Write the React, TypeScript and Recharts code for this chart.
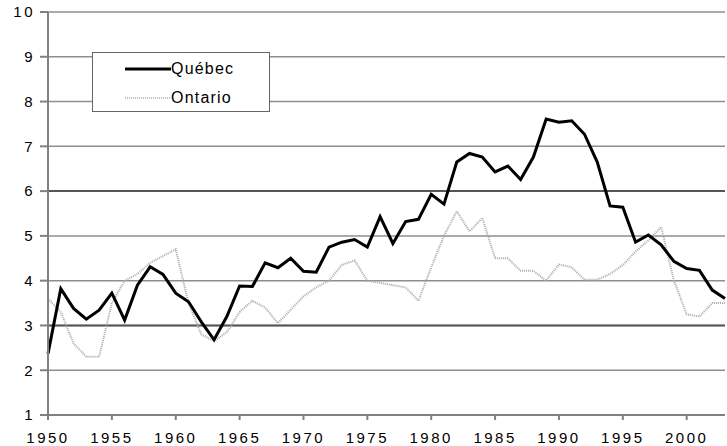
import { LineChart, Line, XAxis, YAxis, CartesianGrid, ReferenceLine } from "recharts";

const years = [
  1950, 1951, 1952, 1953, 1954, 1955, 1956, 1957, 1958, 1959,
  1960, 1961, 1962, 1963, 1964, 1965, 1966, 1967, 1968, 1969,
  1970, 1971, 1972, 1973, 1974, 1975, 1976, 1977, 1978, 1979,
  1980, 1981, 1982, 1983, 1984, 1985, 1986, 1987, 1988, 1989,
  1990, 1991, 1992, 1993, 1994, 1995, 1996, 1997, 1998, 1999,
  2000, 2001, 2002, 2003,
];

const quebec = [
  2.37, 3.82, 3.38, 3.14, 3.34, 3.72, 3.12, 3.9, 4.31, 4.14,
  3.72, 3.53, 3.08, 2.68, 3.2, 3.88, 3.87, 4.4, 4.29, 4.5,
  4.21, 4.19, 4.75, 4.86, 4.92, 4.75, 5.43, 4.83, 5.32, 5.37,
  5.93, 5.71, 6.65, 6.84, 6.76, 6.43, 6.56, 6.26, 6.76, 7.61,
  7.54, 7.57, 7.27, 6.65, 5.67, 5.64, 4.86, 5.02, 4.8, 4.43,
  4.27, 4.23, 3.79, 3.6,
];

const ontario = [
  3.6, 3.3, 2.6, 2.3, 2.3, 3.5, 4.0, 4.15, 4.4, 4.55,
  4.7, 3.5, 2.8, 2.65, 2.85, 3.3, 3.55, 3.4, 3.05, 3.35,
  3.65, 3.85, 4.0, 4.35, 4.45, 4.0, 3.95, 3.9, 3.85, 3.55,
  4.3, 5.0, 5.55, 5.1, 5.4, 4.5, 4.5, 4.22, 4.22, 4.0,
  4.36, 4.3, 4.02, 4.02, 4.15, 4.35, 4.65, 4.9, 5.2, 4.0,
  3.25, 3.2, 3.5, 3.5,
];

const xTicks = [1950, 1955, 1960, 1965, 1970, 1975, 1980, 1985, 1990, 1995, 2000];
const yTicks = [1, 2, 3, 4, 5, 6, 7, 8, 9, 10];
// these two gridlines come out darker in the original
const darkGrid = [3, 6];

const data = years.map((year, i) => ({ year, Québec: quebec[i], Ontario: ontario[i] }));

const FONT = "'Liberation Sans', Arial, sans-serif";
const tickStyle = { fill: "#000", fontSize: 15, fontFamily: FONT, letterSpacing: 2.5 };

function LegendBox() {
  const rows = [
    { name: "Québec", stroke: "#000", width: 3, dash: undefined },
    { name: "Ontario", stroke: "#aaa", width: 1.5, dash: "1 1" },
  ];
  return (
    <div
      style={{
        position: "absolute", left: 92, top: 52, width: 176, height: 58,
        background: "#fff", border: "1px solid #666", fontFamily: FONT,
        fontSize: 16, letterSpacing: 1.2, color: "#000",
      }}
    >
      {rows.map((r, i) => (
        <div key={r.name} style={{ position: "absolute", left: 32, top: 6 + i * 29, height: 20, display: "flex", alignItems: "center" }}>
          <svg width={46} height={6} style={{ display: "block" }}>
            <line x1={0} y1={3} x2={46} y2={3} stroke={r.stroke} strokeWidth={r.width} strokeDasharray={r.dash} />
          </svg>
          <span>{r.name}</span>
        </div>
      ))}
    </div>
  );
}

export default function App() {
  return (
    <div style={{ position: "fixed", left: 0, top: 0, width: 727, height: 446, background: "#fff" }}>
      <LineChart width={727} height={446} data={data} margin={{ top: 12, right: 2, bottom: 0, left: 0 }}>
        <CartesianGrid vertical={false} stroke="#8e8e8e" strokeWidth={1.5} />
        {darkGrid.map((v) => (
          <ReferenceLine key={v} y={v} stroke="#555" strokeWidth={2} />
        ))}
        <XAxis
          dataKey="year" type="number" domain={[1950, 2003]} ticks={xTicks}
          height={31} tickSize={5} tickMargin={12} tick={tickStyle}
          stroke="#808080" strokeWidth={2} interval={0}
        />
        <YAxis
          type="number" domain={[1, 10]} ticks={yTicks} width={48}
          tickSize={8} tickMargin={5} tick={tickStyle}
          stroke="#808080" strokeWidth={2} interval={0}
        />
        <Line dataKey="Ontario" stroke="#aaa" strokeWidth={2} strokeDasharray="1 1" dot={false} isAnimationActive={false} />
        <Line dataKey="Québec" stroke="#000" strokeWidth={3} dot={false} isAnimationActive={false} />
      </LineChart>
      <LegendBox />
    </div>
  );
}
